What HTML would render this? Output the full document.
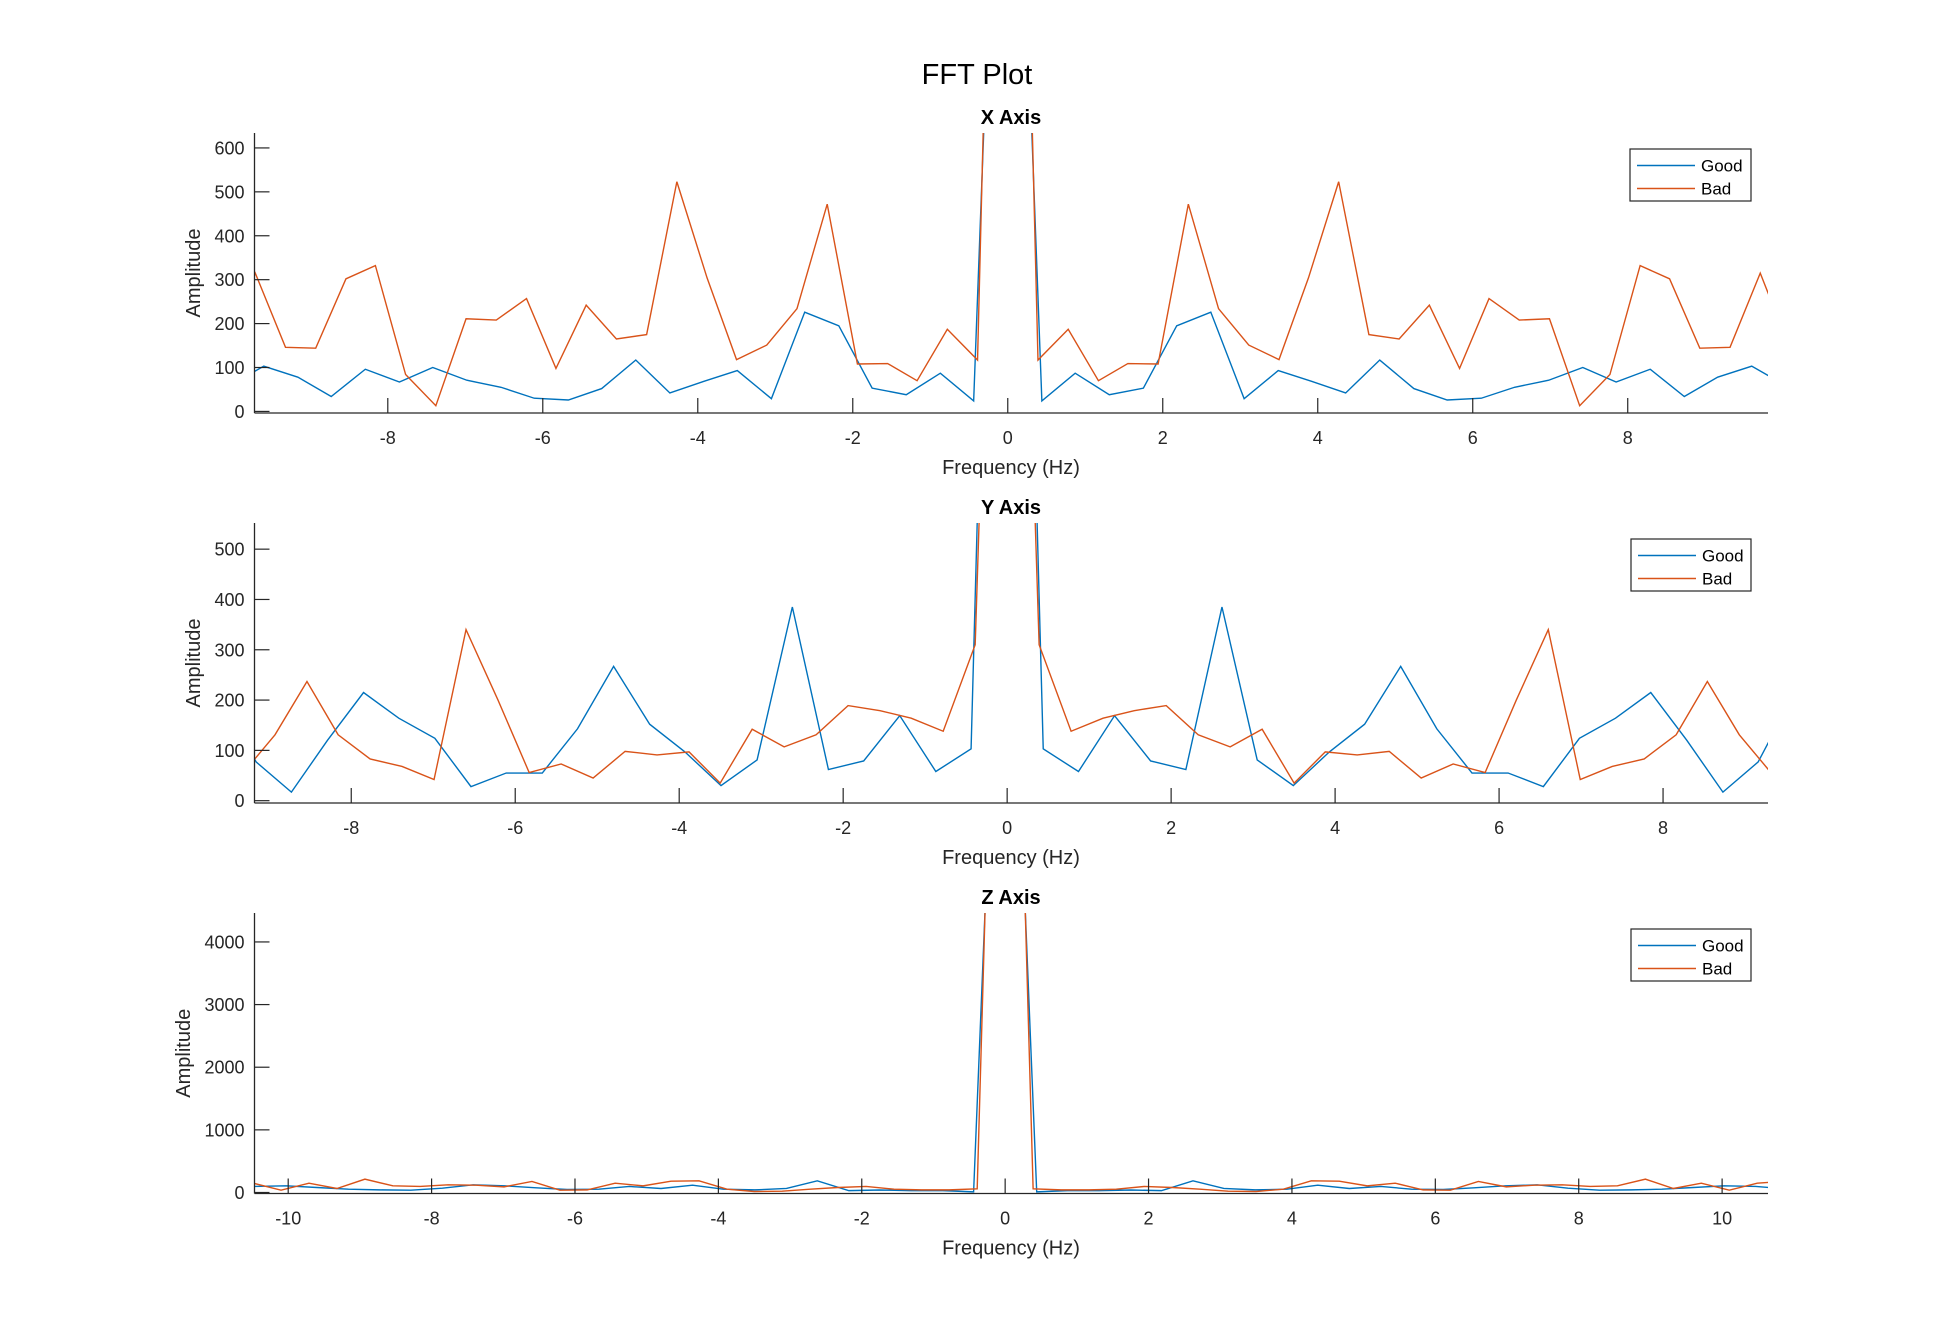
<!DOCTYPE html>
<html><head><meta charset="utf-8"><title>FFT Plot</title>
<style>
html,body{margin:0;padding:0;background:#fff;}
svg{display:block;font-family:"Liberation Sans",Arial,sans-serif;}
</style></head>
<body>
<svg id="chart" width="1954" height="1337" viewBox="0 0 1954 1337" xmlns="http://www.w3.org/2000/svg">
<rect width="1954" height="1337" fill="#fff"/>
<text x="977" y="84" font-size="29" text-anchor="middle" fill="#000">FFT Plot</text>
</svg>
<script>
// ---- data ----
const freqGood = [-10.91,-10.47,-10.03,-9.60,-9.16,-8.73,-8.29,-7.85,-7.42,-6.98,-6.54,-6.11,-5.67,-5.24,-4.80,-4.36,-3.93,-3.49,-3.05,-2.62,-2.18,-1.75,-1.31,-0.87,-0.44,0,0.44,0.87,1.31,1.75,2.18,2.62,3.05,3.49,3.93,4.36,4.80,5.24,5.67,6.11,6.54,6.98,7.42,7.85,8.29,8.73,9.16,9.60,10.03,10.47,10.91];
const freqBad = [-10.88,-10.49,-10.10,-9.71,-9.32,-8.93,-8.54,-8.16,-7.77,-7.38,-6.99,-6.60,-6.21,-5.83,-5.44,-5.05,-4.66,-4.27,-3.88,-3.50,-3.11,-2.72,-2.33,-1.94,-1.55,-1.17,-0.78,-0.39,0,0.39,0.78,1.17,1.55,1.94,2.33,2.72,3.11,3.50,3.88,4.27,4.66,5.05,5.44,5.83,6.21,6.60,6.99,7.38,7.77,8.16,8.54,8.93,9.32,9.71,10.10,10.49,10.88];

const xGood = [90,70,60,103,78,34,96,67,100,71,55,30,26,52,117,42,68,93,29,226,195,53,38,87,24,2100,24,87,38,53,195,226,29,93,68,42,117,52,26,30,55,71,100,67,96,34,78,103,60,70,90];
const xBad = [150,200,140,315,146,144,302,332,84,13,211,208,257,98,242,165,175,523,304,118,151,234,472,108,109,70,187,117,2900,117,187,70,109,108,472,234,151,118,304,523,175,165,242,98,257,208,211,13,84,332,302,144,146,315,140,200,150];

const yGood = [90,80,100,213,77,17,120,215,164,124,28,55,55,143,267,152,97,30,81,385,62,79,169,58,103,2750,103,58,169,79,62,385,81,30,97,152,267,143,55,55,28,124,164,215,120,17,77,213,100,80,90];
const yBad = [90,100,80,60,55,131,237,131,83,68,42,340,200,56,73,45,98,91,97,35,142,107,131,189,179,164,138,310,2300,310,138,164,179,189,131,107,142,35,97,91,98,45,73,56,200,340,42,68,83,131,237,131,55,60,80,100,90];

const zGood = [55,96,106,80,53,42,37,69,122,106,74,48,53,96,64,117,53,42,64,186,30,40,30,30,10,12400,10,30,30,40,30,186,64,42,53,117,64,96,53,48,74,106,122,69,37,42,53,80,106,96,55];
const zBad = [178,149,37,149,64,213,106,96,122,117,90,176,37,42,149,106,181,186,53,16,21,53,80,96,53,42,42,58,15800,58,42,42,53,96,80,53,21,16,53,186,181,106,149,42,37,176,90,117,122,96,106,213,64,149,37,149,178];

const xTicks8 = [-8,-6,-4,-2,0,2,4,6,8];
const xTicks10 = [-10,-8,-6,-4,-2,0,2,4,6,8,10];
const yTicksX = [0,100,200,300,400,500,600];
const yTicksY = [0,100,200,300,400,500];
const yTicksZ = [0,1000,2000,3000,4000];
const seriesNames = ["Good","Bad"];

// ---- layout ----
const NS = "http://www.w3.org/2000/svg";
const svg = document.getElementById("chart");
const BLUE = "#0072BD", ORANGE = "#D95319";
function mk(tag, attrs, parent){
  const e = document.createElementNS(NS, tag);
  for (const k in attrs) e.setAttribute(k, attrs[k]);
  (parent||svg).appendChild(e);
  return e;
}
const panels = [
  {id:"x", title:"X Axis", left:254.5, right:1768, top:133, bottom:413, xd:[-9.72,9.81], yd:[-3.6,634], xt:xTicks8, yt:yTicksX, good:xGood, bad:xBad, leg:[1630,149,121,52]},
  {id:"y", title:"Y Axis", left:254.5, right:1768, top:523, bottom:803, xd:[-9.18,9.28], yd:[-4.6,552], xt:xTicks8, yt:yTicksY, good:yGood, bad:yBad, leg:[1631,539,120,52]},
  {id:"z", title:"Z Axis", left:254.5, right:1768, top:913, bottom:1193.5, xd:[-10.47,10.64], yd:[-16,4462], xt:xTicks10, yt:yTicksZ, good:zGood, bad:zBad, leg:[1631,929,120,52]}
];
const defs = mk("defs", {});
panels.forEach(p => {
  const sx = f => p.left + (f - p.xd[0]) / (p.xd[1] - p.xd[0]) * (p.right - p.left);
  const sy = v => p.bottom - (v - p.yd[0]) / (p.yd[1] - p.yd[0]) * (p.bottom - p.top);
  const g = mk("g", {});
  
  
  const cp = mk("clipPath", {id:"clip-"+p.id}, defs);
  mk("rect", {x:p.left, y:p.top, width:p.right-p.left, height:p.bottom-p.top}, cp);
  [[p.good, freqGood, BLUE, "good"], [p.bad, freqBad, ORANGE, "bad"]].forEach(s => {
    const pts = s[0].map((v,i) => sx(s[1][i]).toFixed(2) + "," + sy(v).toFixed(2)).join(" ");
    const pl = mk("polyline", {points:pts, fill:"none", stroke:s[2], "stroke-width":1.4, "clip-path":"url(#clip-"+p.id+")"}, g);
    
    
  });
  const ax = mk("line", {x1:p.left, y1:p.bottom, x2:p.right, y2:p.bottom, stroke:"#262626", "stroke-width":1.3}, g);
  
  
  const ay = mk("line", {x1:p.left, y1:p.top, x2:p.left, y2:p.bottom, stroke:"#262626", "stroke-width":1.3}, g);
  
  
  p.xt.forEach(t => {
    const x = sx(t);
    const tl = mk("line", {x1:x, y1:p.bottom, x2:x, y2:p.bottom-15, stroke:"#262626", "stroke-width":1.2}, g);
    
    
    const tx = mk("text", {x:x, y:p.bottom+31, "font-size":18, "text-anchor":"middle", fill:"#262626"}, g);
    tx.textContent = String(t);
    
    
  });
  p.yt.forEach(t => {
    const y = sy(t);
    const tl = mk("line", {x1:p.left, y1:y, x2:p.left+15, y2:y, stroke:"#262626", "stroke-width":1.2}, g);
    
    
    const tx = mk("text", {x:p.left-10, y:y+6.5, "font-size":18, "text-anchor":"end", fill:"#262626"}, g);
    tx.textContent = String(t);
    
    
  });
  const ti = mk("text", {x:1011, y:p.top-9, "font-size":20, "font-weight":"bold", "text-anchor":"middle", fill:"#000"}, g);
  ti.textContent = p.title;
  
  
  const xl = mk("text", {x:1011, y:p.bottom+61, "font-size":20, "text-anchor":"middle", fill:"#262626"}, g);
  xl.textContent = "Frequency (Hz)";
  
  
  const ylx = p.id === "z" ? 190 : 200;
  const yl = mk("text", {x:ylx, y:(p.top+p.bottom)/2, "font-size":20, "text-anchor":"middle", fill:"#262626", transform:"rotate(-90 "+ylx+" "+((p.top+p.bottom)/2)+")"}, g);
  yl.textContent = "Amplitude";
  
  
  const L = p.leg;
  const lg = mk("g", {}, g);
  
  
  mk("rect", {x:L[0], y:L[1], width:L[2], height:L[3], fill:"#fff", stroke:"#262626", "stroke-width":1.2}, lg);
  seriesNames.forEach((n,i) => {
    const cy = L[1] + 16.5 + i*23;
    const e = mk("g", {}, lg);
    
    
    mk("line", {x1:L[0]+7, y1:cy, x2:L[0]+65, y2:cy, stroke:i?ORANGE:BLUE, "stroke-width":1.4}, e);
    const t = mk("text", {x:L[0]+71, y:cy+6, "font-size":17, fill:"#000"}, e);
    t.textContent = n;
  });
});
</script>
</body></html>
